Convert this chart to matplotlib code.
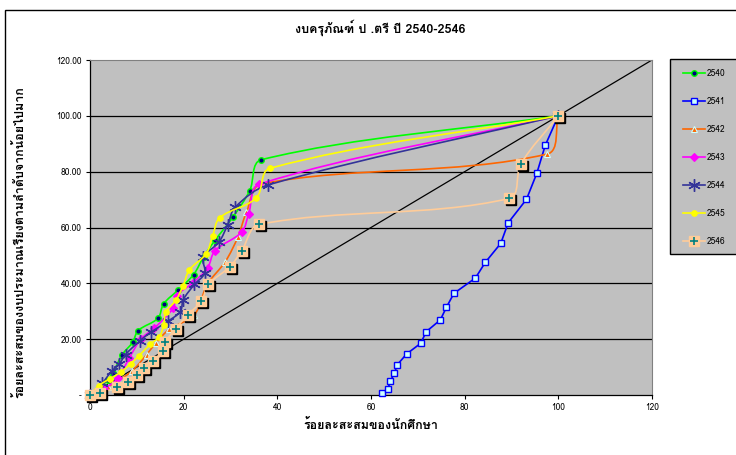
import numpy as np
import matplotlib
matplotlib.use("Agg")
import matplotlib.pyplot as plt
from matplotlib import font_manager, ft2font
from matplotlib.path import Path
from matplotlib.patches import PathPatch, Rectangle
from matplotlib.lines import Line2D
from matplotlib.transforms import offset_copy

# ---------------------------------------------
# data
# ---------------------------------------------
x2540 = [0, 2.0, 3.8, 4.9, 6.9, 9.1, 10.3, 14.5, 15.7, 18.8, 22.1, 24.3, 26.7, 30.5, 34.1, 36.6, 100]
y2540 = [0, 2.5, 5.4, 8.0, 14.5, 18.9, 23.1, 27.5, 32.6, 37.6, 43.1, 49.6, 55.4, 63.7, 73.2, 84.3, 100]

x2541 = [62.3, 63.6, 64.1, 65.0, 65.6, 67.6, 70.6, 71.8, 74.8, 76.1, 77.7, 82.3, 84.4, 87.7, 89.3, 93.2, 95.4, 97.2, 100]
y2541 = [0.8, 2.1, 4.9, 7.8, 10.8, 14.7, 18.5, 22.7, 26.9, 31.4, 36.4, 41.9, 47.5, 54.3, 61.7, 70.1, 79.4, 89.4, 100]

x2542 = [0, 3.9, 8.9, 12.1, 14.1, 16.9, 22.3, 25.0, 28.9, 31.6, 33.4, 36.6, 97.6, 100]
y2542 = [0, 3.0, 8.5, 14.5, 18.7, 23.5, 28.8, 39.5, 47.8, 56.7, 65.5, 75.6, 86.3, 100]

x2543 = [0, 3.0, 5.9, 8.4, 10.9, 13.7, 17.8, 18.5, 21.9, 25.1, 26.7, 32.4, 33.9, 36.1, 100]
y2543 = [0, 2.2, 6.0, 13.3, 20.1, 23.9, 31.2, 35.6, 40.1, 45.5, 51.7, 58.4, 65.0, 75.5, 100]

x2544 = [0, 2.6, 4.6, 6.2, 7.6, 10.7, 13.0, 16.6, 19.3, 19.9, 22.3, 24.5, 24.2, 27.5, 29.4, 31.0, 38.1, 100]
y2544 = [0, 4.2, 8.5, 11.0, 14.5, 19.5, 22.5, 26.4, 29.9, 34.1, 39.6, 43.7, 49.3, 54.7, 61.0, 67.3, 75.3, 100]

x2545 = [0, 1.9, 4.2, 6.6, 8.7, 10.5, 12.8, 14.8, 15.7, 16.2, 18.4, 19.9, 21.2, 24.8, 26.2, 27.7, 35.5, 38.4, 100]
y2545 = [0, 3.4, 5.8, 8.2, 11.2, 14.1, 18.1, 20.9, 24.9, 29.6, 34.1, 39.2, 44.8, 50.6, 57.0, 63.5, 70.6, 81.2, 100]

x2546 = [0, 2.2, 5.7, 8.1, 10.1, 11.5, 13.4, 15.6, 16.1, 18.3, 20.9, 23.8, 25.3, 29.9, 32.4, 36.1, 89.5, 92.0, 100]
y2546 = [0, 0.6, 2.8, 4.8, 7.3, 9.7, 12.2, 15.6, 19.0, 23.8, 28.8, 33.6, 39.6, 46.0, 51.7, 61.1, 70.4, 82.8, 100]

x_equal = [0, 120]
y_equal = [0, 120]

x_ticks = [0, 20, 40, 60, 80, 100, 120]
y_ticks = [0, 20, 40, 60, 80, 100, 120]
y_ticklabels = ["-", "20.00", "40.00", "60.00", "80.00", "100.00", "120.00"]

title = "งบครุภัณฑ์ ป .ตรี ปี 2540-2546"
x_label = "ร้อยละสะสมของนักศึกษา"
y_label = "ร้อยละสะสมของงบประมาณเรียงตามลำดับจากน้อยไปมาก"

AX_W, AX_H = 562, 335  # plot area in pixels


def find_thai_font():
    for f in font_manager.fontManager.ttflist:
        try:
            cmap = ft2font.FT2Font(f.fname).get_charmap()
        except Exception:
            continue
        if 0x0E07 in cmap and 0x0E31 in cmap:
            return f.name
    return None


def smooth_path(x, y):
    # excel-like smoothed line: tangent along neighbours, length scaled by the segment
    sc = np.array([AX_W / 120.0, AX_H / 120.0])
    pts = np.column_stack([x, y]).astype(float) * sc
    n = len(pts)

    def tang(i):
        a = pts[i - 1] if i > 0 else pts[i]
        b = pts[i + 1] if i < n - 1 else pts[i]
        d = b - a
        return d / (np.hypot(*d) or 1.0)

    verts = [pts[0]]
    codes = [Path.MOVETO]
    for i in range(n - 1):
        p1, p2 = pts[i], pts[i + 1]
        L = np.hypot(*(p2 - p1))
        verts += [p1 + tang(i) * L / 3, p2 - tang(i + 1) * L / 3, p2]
        codes += [Path.CURVE4] * 3
    return Path(np.array(verts) / sc, codes)


thai = find_thai_font()
fams = [thai, "DejaVu Sans"] if thai else ["DejaVu Sans"]
plt.rcParams["font.family"] = fams

fig = plt.figure(figsize=(7.36, 4.55), dpi=100)
ax = fig.add_axes([90 / 736, 60 / 455, AX_W / 736, AX_H / 455])
ax.set_facecolor("#C0C0C0")

ax.set_xlim(0, 120)
ax.set_ylim(0, 120)
for yv in y_ticks[1:-1]:
    ax.axhline(yv, color="black", lw=0.9, zorder=1)

ax.plot(x_equal, y_equal, color="black", lw=0.9, zorder=2)

# ---------------------------------------------
# series
# ---------------------------------------------
series = [
    (x2540, y2540, dict(color="#00FF00", marker="o", mfc="#000080", mec="#00FF00", ms=4, mew=1.0), True),
    (x2541, y2541, dict(color="#0000FF", marker="s", mfc="#CCFFFF", mec="#0000FF", ms=5, mew=1.0), False),
    (x2542, y2542, dict(color="#FF6600", marker="^", mfc="#FF6600", mec="#CCFFFF", ms=5, mew=0.8), True),
    (x2543, y2543, dict(color="#FF00FF", marker="D", mfc="#FF00FF", mec="#FF00FF", ms=4.5, mew=0.8), True),
    (x2544, y2544, dict(color="#333399", marker=(6, 2, 0), mfc="#333399", mec="#333399", ms=9, mew=1.0), True),
    (x2545, y2545, dict(color="#FFFF00", marker="o", mfc="#FFFF00", mec="#FFFF00", ms=4, mew=0.8), True),
]
labels = ["2540", "2541", "2542", "2543", "2544", "2545", "2546"]
handles = []
z = 3
for xs, ys, st, smooth in series:
    if smooth:
        ax.add_patch(PathPatch(smooth_path(xs, ys), fill=False, ec=st["color"], lw=1.2, zorder=z))
    else:
        ax.plot(xs, ys, color=st["color"], lw=1.2, zorder=z)
    ax.plot(xs, ys, ls="none", marker=st["marker"], mfc=st["mfc"], mec=st["mec"],
            ms=st["ms"], mew=st["mew"], zorder=z + 0.5, clip_on=False)
    handles.append(Line2D([], [], lw=1.2, **st))
    z += 1

# 2546: peach squares with a black shadow and teal cross
ax.add_patch(PathPatch(smooth_path(x2546, y2546), fill=False, ec="#FFCC99", lw=1.2, zorder=z))
shadow = offset_copy(ax.transData, fig=fig, x=2, y=-2, units="dots")
ax.plot(x2546, y2546, ls="none", marker="s", mfc="black", mec="black", ms=6.5,
        transform=shadow, zorder=z + 0.2, clip_on=False)
ax.plot(x2546, y2546, ls="none", marker="s", mfc="#FFCC99", mec="#FFCC99", ms=6.5,
        zorder=z + 0.4, clip_on=False)
ax.plot(x2546, y2546, ls="none", marker="+", mec="#008080", ms=6, mew=1.2,
        zorder=z + 0.6, clip_on=False)
handles.append((Line2D([], [], color="#FFCC99", lw=1.2, marker="s", mfc="#FFCC99", mec="#FFCC99", ms=6.5),
                Line2D([], [], ls="none", marker="+", mec="#008080", ms=6, mew=1.2)))

# ---------------------------------------------
# axes
# ---------------------------------------------
ax.set_xticks(x_ticks)
ax.set_xticklabels([str(v) for v in x_ticks])
ax.set_yticks(y_ticks)
ax.set_yticklabels(y_ticklabels)
ax.tick_params(axis="both", labelsize=6, length=3, width=0.8, direction="out", pad=3)
for s in ["top", "right"]:
    ax.spines[s].set_color("#808080")
    ax.spines[s].set_linewidth(0.8)
for s in ["left", "bottom"]:
    ax.spines[s].set_color("black")
    ax.spines[s].set_linewidth(0.9)

ax.set_xlabel(x_label, fontsize=9, fontweight="bold", labelpad=5)
ax.set_ylabel(y_label, fontsize=9, fontweight="bold")
ax.yaxis.set_label_coords(-64 / AX_W, (395 - 242) / AX_H)
fig.text(380 / 736, 1 - 28 / 455, title, ha="center", va="center", fontsize=9, fontweight="bold")

# chart border
fig.add_artist(Rectangle((5 / 736, -0.1), 1.2, 1.1 - 10 / 455, transform=fig.transFigure,
                         fill=False, ec="black", lw=1.0))

# legend box
fig.add_artist(Rectangle((670 / 736, 1 - 254 / 455), 0.2, (254 - 59) / 455, transform=fig.transFigure,
                         fc="#C0C0C0", ec="black", lw=1.0, zorder=5))
leg = fig.legend(handles, labels, loc="upper left", bbox_to_anchor=(683 / 736, 1 - 69 / 455),
                 frameon=False, fontsize=6, labelspacing=2.27, handlelength=2.6,
                 handletextpad=0.2, borderaxespad=0, borderpad=0, numpoints=1)
leg.set_zorder(6)

fig.savefig("out.png", dpi=100)
